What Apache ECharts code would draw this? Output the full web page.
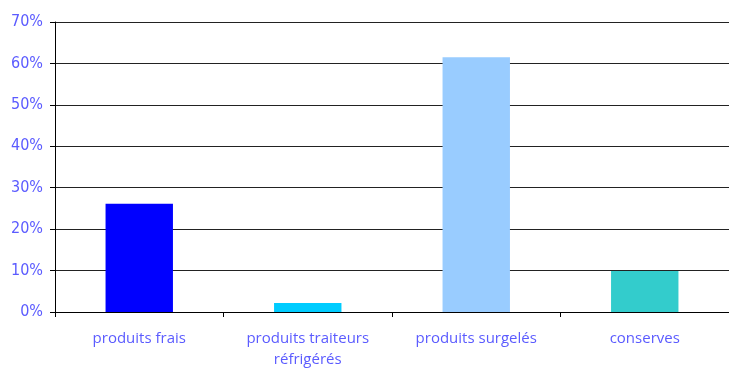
<!DOCTYPE html>
<html>
<head>
<meta charset="utf-8">
<script src="https://cdn.jsdelivr.net/npm/echarts@6/dist/echarts.min.js"></script>
<style>
  html, body { margin: 0; padding: 0; background: #fff; }
  #chart { width: 729px; height: 370px; }
</style>
</head>
<body>
<div id="chart"></div>
<script>
// Répartition par type de produit (en %)
const categories = ['produits frais', 'produits traiteurs\nréfrigérés', 'produits surgelés', 'conserves'];
const shares = [26.1, 2.2, 61.5, 9.9];
const barColors = ['#0000ff', '#00ccff', '#99ccff', '#33cccc'];
const yTicks = { min: 0, max: 70, step: 10 };

const labelColor = '#5b5bff';

const chart = echarts.init(document.getElementById('chart'), null, { renderer: 'canvas' });
chart.setOption({
  animation: false,
  grid: { left: 55, right: 0, top: 22, bottom: 55, containLabel: false },
  xAxis: {
    type: 'category',
    data: categories,
    axisLine: { show: true, lineStyle: { color: '#000', width: 1 } },
    axisTick: { show: true, length: 5, lineStyle: { color: '#000' } },
    axisLabel: {
      color: labelColor, fontFamily: 'Open Sans', fontSize: 15,
      margin: 16, lineHeight: 21
    }
  },
  yAxis: {
    type: 'value',
    min: yTicks.min, max: yTicks.max, interval: yTicks.step,
    axisLine: { show: true, lineStyle: { color: '#000', width: 1 } },
    axisTick: { show: true, length: 5, lineStyle: { color: '#000' } },
    splitLine: { show: true, lineStyle: { color: '#222', width: 1 } },
    axisLabel: {
      color: labelColor, fontFamily: '"DejaVu Sans Condensed", "DejaVu Sans", sans-serif',
      fontSize: 16, margin: 12,
      formatter: v => v + '%'
    }
  },
  series: [{
    type: 'bar',
    data: shares.map((v, i) => ({ value: v, itemStyle: { color: barColors[i] } })),
    barWidth: '40%'
  }]
});
</script>
</body>
</html>
